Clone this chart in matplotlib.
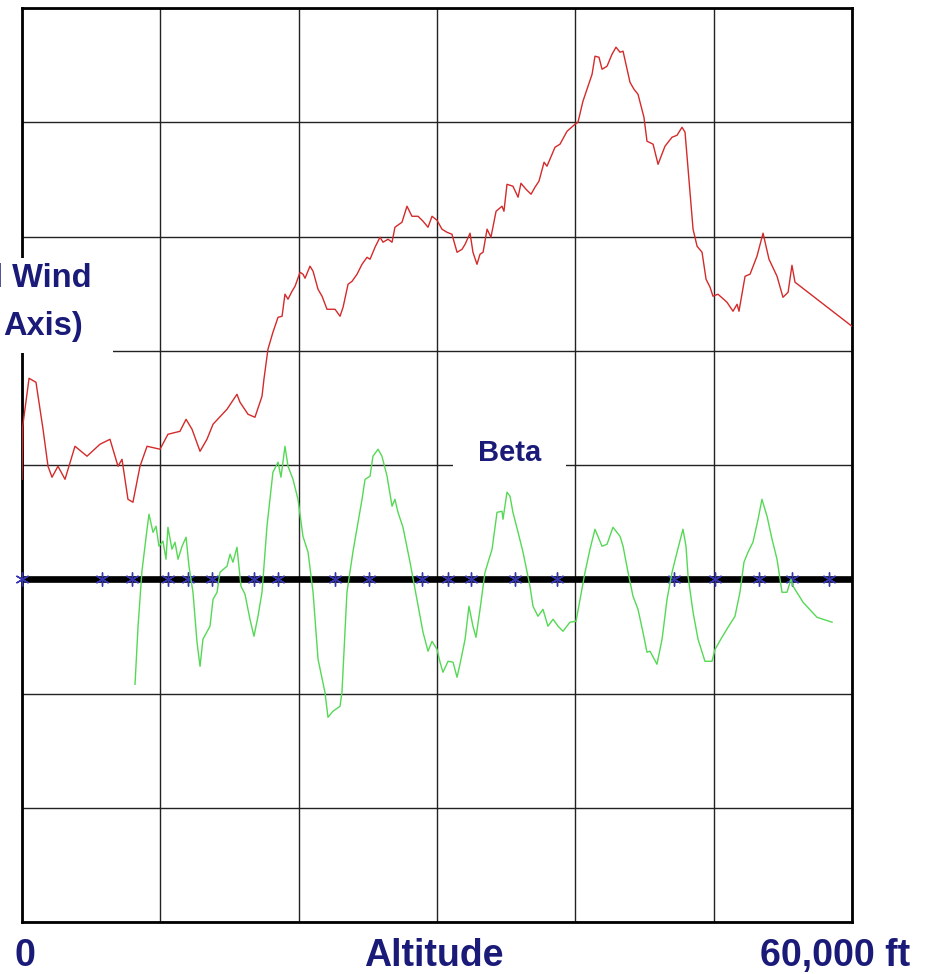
import matplotlib
matplotlib.use("Agg")
import matplotlib.pyplot as plt
from matplotlib.patches import Rectangle

# altitude in thousands of ft, values in grid units (black line = 0)
red_alt = [0, 0.05, 0.51, 1.01, 1.52, 1.88, 2.17, 2.60, 3.11, 3.83, 4.70, 5.64, 6.36, 6.94, 7.23,
           7.66, 8.02, 8.53, 9.04, 9.98, 10.55, 11.42, 11.86, 12.29, 12.87, 13.37, 13.81, 14.82,
           15.54, 15.76, 16.34, 16.84, 17.35, 17.49, 17.78, 18.14, 18.51, 18.80, 19.01, 19.23,
           19.52, 19.74, 20.10, 20.31, 20.46, 20.82, 21.04, 21.40, 21.69, 22.05, 22.63, 22.99,
           23.21, 23.57, 23.86, 24.22, 24.58, 24.94, 25.16, 25.52, 25.88, 26.10, 26.46, 26.75,
           26.96, 27.47, 27.83, 28.19, 28.63, 28.99, 29.35, 29.64, 30.00, 30.36, 30.72, 31.08,
           31.45, 31.81, 32.03, 32.39, 32.60, 32.89, 33.11, 33.33, 33.62, 33.90, 34.27, 34.70,
           34.84, 35.06, 35.49, 35.86, 36.07, 36.43, 36.80, 37.08, 37.37, 37.74, 37.95, 38.53,
           38.89, 39.40, 39.98, 40.19, 40.55, 40.84, 41.21, 41.42, 41.71, 41.93, 42.29, 42.65,
           42.94, 43.23, 43.45, 43.95, 44.24, 44.53, 44.96, 45.18, 45.62, 45.98, 46.48, 46.99,
           47.35, 47.71, 47.93, 48.15, 48.51, 48.80, 49.16, 49.45, 49.74, 49.95, 50.31, 50.96,
           51.40, 51.69, 51.83, 52.27, 52.63, 53.13, 53.57, 54.00, 54.58, 55.01, 55.38, 55.66,
           55.88, 60.00]
red_val = [0.875, 1.339, 1.759, 1.724, 1.313, 0.989, 0.893, 0.989, 0.875, 1.164, 1.077, 1.182,
           1.225, 0.989, 1.050, 0.700, 0.674, 0.989, 1.164, 1.138, 1.269, 1.295, 1.400, 1.313,
           1.120, 1.225, 1.357, 1.488, 1.619, 1.549, 1.444, 1.418, 1.602, 1.751, 2.013, 2.162,
           2.293, 2.302, 2.495, 2.451, 2.521, 2.565, 2.687, 2.670, 2.635, 2.740, 2.696, 2.538,
           2.477, 2.363, 2.363, 2.302, 2.381, 2.582, 2.608, 2.670, 2.757, 2.818, 2.801, 2.906,
           2.994, 2.950, 2.976, 2.950, 3.081, 3.125, 3.265, 3.177, 3.177, 3.134, 3.081, 3.177,
           3.142, 3.064, 3.037, 3.020, 2.862, 2.888, 2.932, 3.029, 2.862, 2.757, 2.845, 2.862,
           3.064, 2.994, 3.221, 3.265, 3.221, 3.457, 3.440, 3.344, 3.466, 3.414, 3.370, 3.431,
           3.484, 3.650, 3.615, 3.781, 3.808, 3.921, 3.983, 4.000, 4.184, 4.289, 4.420, 4.578,
           4.569, 4.464, 4.490, 4.595, 4.657, 4.613, 4.622, 4.350, 4.289, 4.245, 4.044, 3.834,
           3.808, 3.632, 3.790, 3.869, 3.886, 3.956, 3.913, 3.589, 3.064, 2.915, 2.862, 2.626,
           2.556, 2.477, 2.495, 2.425, 2.346, 2.407, 2.346, 2.652, 2.670, 2.827, 3.029, 2.801,
           2.652, 2.468, 2.512, 2.748, 2.600, 2.214]

beta_alt = [8.17, 8.39, 8.67, 9.04, 9.18, 9.47, 9.69, 9.90, 10.19, 10.41, 10.55, 10.84, 11.06,
            11.28, 11.57, 11.86, 12.07, 12.36, 12.65, 12.87, 13.08, 13.59, 13.81, 14.10, 14.31,
            14.82, 15.04, 15.25, 15.54, 15.83, 16.12, 16.48, 16.77, 17.06, 17.35, 17.71, 18.14,
            18.51, 18.72, 19.01, 19.23, 19.59, 19.95, 20.31, 20.68, 21.04, 21.40, 21.90, 22.12,
            22.48, 22.99, 23.13, 23.49, 23.93, 24.58, 24.80, 25.16, 25.37, 25.74, 26.02, 26.39,
            26.75, 26.96, 27.18, 27.54, 28.05, 28.55, 28.99, 29.35, 29.64, 30.00, 30.22, 30.43,
            30.80, 31.16, 31.45, 31.66, 32.03, 32.31, 32.60, 32.82, 33.11, 33.47, 33.69, 33.98,
            34.34, 34.70, 34.77, 35.06, 35.28, 35.49, 35.86, 36.22, 36.72, 36.94, 37.30, 37.66,
            38.02, 38.39, 38.75, 39.11, 39.61, 40.05, 40.34, 40.70, 41.06, 41.42, 41.93, 42.29,
            42.72, 43.23, 43.45, 43.81, 44.17, 44.53, 44.89, 45.18, 45.40, 45.90, 46.27, 46.63,
            46.99, 47.35, 47.78, 48.00, 48.15, 48.51, 48.87, 49.37, 49.88, 50.10, 50.60, 51.04,
            51.54, 51.90, 52.19, 52.48, 52.84, 53.21, 53.49, 53.86, 54.22, 54.58, 54.94, 55.30,
            55.59, 55.74, 56.46, 57.47, 58.56]
beta_val = [-0.919, -0.411, 0.070, 0.438, 0.569, 0.411, 0.464, 0.289, 0.333, 0.175, 0.455, 0.263,
            0.324, 0.175, 0.289, 0.368, 0.114, -0.114, -0.551, -0.762, -0.525, -0.411, -0.175,
            -0.114, 0.061, 0.114, 0.219, 0.149, 0.280, -0.061, -0.131, -0.350, -0.499, -0.324,
            -0.114, 0.464, 0.937, 1.024, 0.893, 1.164, 0.989, 0.875, 0.700, 0.376, 0.236, -0.114,
            -0.700, -0.989, -1.208, -1.155, -1.112, -0.989, -0.114, 0.245, 0.700, 0.875, 0.902,
            1.077, 1.138, 1.077, 0.902, 0.639, 0.700, 0.586, 0.455, 0.149, -0.175, -0.464, -0.630,
            -0.543, -0.613, -0.726, -0.814, -0.718, -0.726, -0.858, -0.744, -0.525, -0.236, -0.411,
            -0.508, -0.263, 0.061, 0.149, 0.263, 0.586, 0.595, 0.525, 0.762, 0.726, 0.586, 0.411,
            0.236, -0.061, -0.236, -0.324, -0.263, -0.411, -0.350, -0.411, -0.455, -0.376, -0.368,
            -0.175, 0.061, 0.263, 0.438, 0.289, 0.306, 0.455, 0.376, 0.289, 0.061, -0.149, -0.263,
            -0.464, -0.639, -0.630, -0.744, -0.525, -0.175, 0.061, 0.236, 0.438, 0.289, 0.026,
            -0.289, -0.525, -0.718, -0.718, -0.613, -0.508, -0.420, -0.324, -0.114, 0.149, 0.236,
            0.324, 0.525, 0.700, 0.551, 0.350, 0.175, -0.114, -0.114, 0.0, -0.061, -0.201, -0.333,
            -0.376]

star_alt = [0, 5.78, 7.95, 10.55, 12.00, 13.74, 16.77, 18.51, 22.63, 25.08, 28.92, 30.80,
            32.46, 35.64, 38.68, 47.14, 50.10, 53.28, 55.66, 58.34]
x_ticks = [0, 10, 20, 30, 40, 50, 60]
y_ticks = [-3, -2, -1, 0, 1, 2, 3, 4, 5]

W, H = 928, 974
fig = plt.figure(figsize=(W / 100, H / 100), dpi=100)
ax = fig.add_axes([22 / W, 1 - 922 / H, 830 / W, 914 / H])

ax.set_xlim(0, 60)
ax.set_ylim(-3, 5)
ax.set_xticks(x_ticks)
ax.set_yticks(y_ticks)
ax.tick_params(length=0, labelbottom=False, labelleft=False)
ax.grid(True, color="#222222", linewidth=1)
for s in ax.spines.values():
    s.set_linewidth(2)
    s.set_color("black")

ax.plot([0, 60], [0, 0], color="black", linewidth=4.8, zorder=3)
ax.plot(star_alt, [0] * len(star_alt), linestyle="none", marker=(6, 2, 0), markersize=10,
        markeredgewidth=1, color="#3535b0", zorder=4, clip_on=False)
ax.plot(red_alt, red_val, color="#d42a2a", linewidth=1, zorder=5)
ax.plot(beta_alt, beta_val, color="#55d955", linewidth=1, zorder=5)

# white boxes behind the labels that sit over the grid
fig.add_artist(Rectangle((0, 1 - 353 / H), 113 / W, 95 / H, transform=fig.transFigure,
                         facecolor="white", edgecolor="none", zorder=5))
fig.add_artist(Rectangle((453 / W, 1 - 472 / H), 113 / W, 40 / H, transform=fig.transFigure,
                         facecolor="white", edgecolor="none", zorder=5))

navy = "#1a1a78"
fig.text(92 / W, 1 - 278 / H, "l Wind", ha="right", va="center", fontsize=23.5,
         fontweight="bold", color=navy, family="Liberation Sans", zorder=6)
fig.text(83 / W, 1 - 327 / H, "Axis)", ha="right", va="center", fontsize=23.5,
         fontweight="bold", color=navy, family="Liberation Sans", zorder=6)
fig.text(510 / W, 1 - 453 / H, "Beta", ha="center", va="center", fontsize=21,
         fontweight="bold", color=navy, family="Liberation Sans", zorder=6)

bottom = dict(va="baseline", fontsize=27, fontweight="bold", color=navy,
              family="Liberation Sans")
fig.text(25 / W, 1 - 966 / H, "0", ha="center", **bottom)
fig.text(434 / W, 1 - 966 / H, "Altitude", ha="center", **bottom)
fig.text(835 / W, 1 - 966 / H, "60,000 ft", ha="center", **bottom)

fig.savefig("out.png", dpi=100)
